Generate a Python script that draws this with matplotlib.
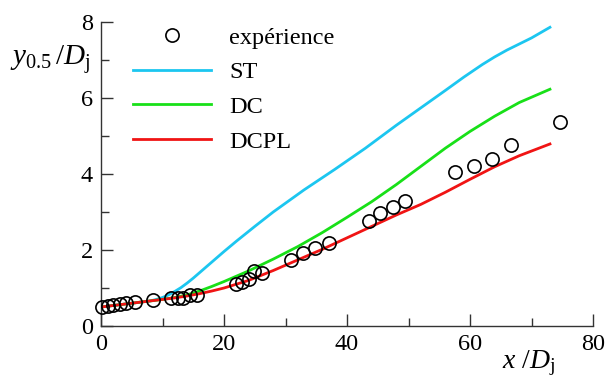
import matplotlib
matplotlib.use('Agg')
import matplotlib.pyplot as plt
from matplotlib.ticker import MultipleLocator

plt.rcParams['font.family'] = ['Liberation Serif', 'DejaVu Serif']
plt.rcParams['mathtext.fontset'] = 'custom'
plt.rcParams['mathtext.rm'] = 'Liberation Serif'
plt.rcParams['mathtext.it'] = 'Liberation Serif:italic'

# experimental data
exp_x = [0.1, 1.1, 2.0, 3.1, 4.1, 5.5, 8.5, 11.4, 12.5, 13.4, 14.4, 15.6,
         21.9, 23.0, 24.0, 24.9, 26.1, 30.9, 32.8, 34.8, 37.0,
         43.5, 45.4, 47.4, 49.4, 57.6, 60.6, 63.6, 66.7, 74.7]
exp_y = [0.49, 0.53, 0.56, 0.59, 0.61, 0.63, 0.68, 0.74, 0.75, 0.75, 0.81, 0.81,
         1.11, 1.16, 1.24, 1.45, 1.39, 1.75, 1.91, 2.04, 2.19,
         2.77, 2.97, 3.14, 3.29, 4.06, 4.21, 4.39, 4.77, 5.37]

# simulations
st_x = [0, 4, 8, 9, 10, 11, 12, 13, 14, 15, 16, 18, 20, 22, 25, 28, 33, 38, 43,
        48, 52, 56, 59, 62, 64, 66, 68, 70, 73]
st_y = [0.5, 0.58, 0.66, 0.7, 0.75, 0.82, 0.91, 1.01, 1.13, 1.26, 1.4, 1.68,
        1.96, 2.23, 2.62, 3.0, 3.58, 4.12, 4.68, 5.28, 5.74, 6.2, 6.55, 6.88,
        7.08, 7.26, 7.42, 7.58, 7.86]

dc_x = [0, 5, 10, 12, 14, 16, 18, 20, 24, 28, 32, 36, 40, 44, 48, 52, 56, 60,
        64, 68, 73]
dc_y = [0.5, 0.6, 0.7, 0.75, 0.82, 0.92, 1.04, 1.17, 1.45, 1.76, 2.09, 2.46,
        2.86, 3.27, 3.72, 4.2, 4.68, 5.12, 5.52, 5.88, 6.23]

dcpl_x = [0, 5, 10, 12, 14, 16, 18, 20, 24, 28, 32, 36, 40, 44, 48, 52, 56,
          60, 64, 68, 73]
dcpl_y = [0.5, 0.6, 0.7, 0.74, 0.79, 0.85, 0.92, 1.0, 1.2, 1.46, 1.74, 2.02,
          2.32, 2.62, 2.92, 3.2, 3.52, 3.86, 4.19, 4.48, 4.79]

fig = plt.figure(figsize=(6.14, 3.79), dpi=100)
ax = fig.add_axes([0.1645, 0.1398, 0.8013, 0.8022])

ax.plot(exp_x, exp_y, 'o', mfc='none', mec='black', ms=9.5, mew=1.2,
        clip_on=False, zorder=5, label='expérience')
ax.plot(st_x, st_y, color='#1CC6F0', lw=2, label='ST')
ax.plot(dc_x, dc_y, color='#18E018', lw=2, label='DC')
ax.plot(dcpl_x, dcpl_y, color='#F01414', lw=2, label='DCPL')

ax.set_xlim(0, 80)
ax.set_ylim(0, 8)
ax.xaxis.set_major_locator(MultipleLocator(20))
ax.xaxis.set_minor_locator(MultipleLocator(10))
ax.yaxis.set_major_locator(MultipleLocator(2))
ax.yaxis.set_minor_locator(MultipleLocator(1))

for side in ['top', 'right']:
    ax.spines[side].set_visible(False)
for side in ['left', 'bottom']:
    ax.spines[side].set_color('#333333')
    ax.spines[side].set_linewidth(1)

ax.tick_params(which='both', direction='in', colors='#333333', labelcolor='black',
               labelsize=17.5, width=1)
ax.tick_params(which='major', length=8.5, pad=6)
ax.tick_params(which='minor', length=5.8)

ax.legend(loc='upper left', bbox_to_anchor=(0.065, 0.985), frameon=False,
          fontsize=17.5, handlelength=3.2, handletextpad=0.75, labelspacing=0.52,
          borderpad=0, borderaxespad=0)

fig.text(0.016, 0.828, r'$y_{\mathrm{0.5}}\,/D_{\mathrm{j}}$', fontsize=21)
fig.text(0.818, 0.029, r'$x\ /D_{\mathrm{j}}$', fontsize=20)

fig.savefig('out.png', dpi=100)
